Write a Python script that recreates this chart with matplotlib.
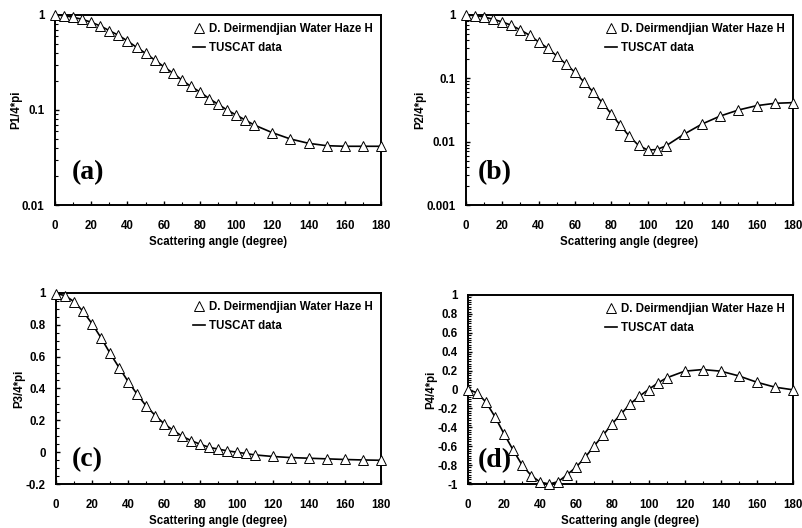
"""Four-panel phase matrix comparison: Deirmendjian Water Haze H vs TUSCAT."""

import matplotlib

matplotlib.use("Agg")
import matplotlib.pyplot as plt
from matplotlib.ticker import MultipleLocator, LogLocator, NullFormatter, FuncFormatter

plt.rcParams["font.family"] = ["Liberation Sans", "DejaVu Sans"]
plt.rcParams["font.weight"] = "bold"
plt.rcParams["font.size"] = 8.3

angles = [0, 5, 10, 15, 20, 25, 30, 35, 40, 45, 50, 55, 60, 65, 70, 75, 80,
          85, 90, 95, 100, 105, 110, 120, 130, 140, 150, 160, 170, 180]

p1 = [1.0, 0.984, 0.945, 0.90, 0.837, 0.766, 0.684, 0.611, 0.533, 0.457,
      0.395, 0.336, 0.286, 0.245, 0.207, 0.177, 0.155, 0.132, 0.115, 0.100,
      0.0886, 0.0785, 0.0695, 0.0577, 0.0495, 0.0446, 0.0421, 0.0415,
      0.0415, 0.0415]

p2 = [1.0, 0.976, 0.93, 0.854, 0.775, 0.687, 0.58, 0.478, 0.375, 0.298,
      0.225, 0.168, 0.124, 0.0875, 0.0608, 0.0413, 0.0274, 0.0181, 0.0121,
      0.00875, 0.00738, 0.0075, 0.00855, 0.0131, 0.019, 0.0254, 0.0316,
      0.037, 0.0403, 0.0413]

p3 = [0.996, 0.983, 0.945, 0.884, 0.806, 0.717, 0.62, 0.53, 0.443, 0.363,
      0.289, 0.23, 0.177, 0.137, 0.099, 0.072, 0.049, 0.03, 0.019, 0.008,
      0.0, -0.008, -0.017, -0.027, -0.034, -0.038, -0.042, -0.046, -0.049,
      -0.051]

p4 = [0.0, -0.035, -0.134, -0.29, -0.47, -0.64, -0.80, -0.91, -0.98, -1.0,
      -0.975, -0.90, -0.82, -0.715, -0.595, -0.48, -0.36, -0.255, -0.15,
      -0.07, 0.0, 0.067, 0.123, 0.194, 0.211, 0.194, 0.144, 0.077, 0.025,
      -0.003]

# ylabel, data, panel tag, axes rect, tag position (axes fraction)
panels = [
    ("P1/4*pi", p1, "(a)", [0.0686, 0.6117, 0.4065, 0.360], (0.05, 0.17)),
    ("P2/4*pi", p2, "(b)", [0.5810, 0.6117, 0.4077, 0.360], (0.037, 0.17)),
    ("P3/4*pi", p3, "(c)", [0.0698, 0.0833, 0.4052, 0.362], (0.05, 0.13)),
    ("P4/4*pi", p4, "(d)", [0.5835, 0.0833, 0.4052, 0.358], (0.03, 0.125)),
]

fig = plt.figure(figsize=(8.02, 5.28), dpi=100)

for i, (ylabel, values, tag, rect, tag_xy) in enumerate(panels):
    ax = fig.add_axes(rect)
    ax.plot(angles, values, color="black", linewidth=1.2, label="TUSCAT data",
            zorder=2, clip_on=False)
    ax.plot(angles, values, linestyle="none", marker="^", markersize=6.5,
            markerfacecolor="white", markeredgecolor="black", markeredgewidth=0.7,
            label="D. Deirmendjian Water Haze H", zorder=3, clip_on=False)

    ax.set_xlim(0, 180)
    ax.xaxis.set_major_locator(MultipleLocator(20))
    ax.xaxis.set_minor_locator(MultipleLocator(10))

    if i == 0:
        ax.set_yscale("log")
        ax.set_ylim(0.01, 1)
        ax.set_yticks([0.01, 0.1, 1])
        ax.set_yticklabels(["0.01", "0.1", "1"])
    elif i == 1:
        ax.set_yscale("log")
        ax.set_ylim(0.001, 1)
        ax.set_yticks([0.001, 0.01, 0.1, 1])
        ax.set_yticklabels(["0.001", "0.01", "0.1", "1"])
    elif i == 2:
        ax.set_ylim(-0.2, 1)
        ax.yaxis.set_major_locator(MultipleLocator(0.2))
        ax.yaxis.set_minor_locator(MultipleLocator(0.05))
    else:
        ax.set_ylim(-1, 1)
        ax.yaxis.set_major_locator(MultipleLocator(0.2))
        ax.yaxis.set_minor_locator(MultipleLocator(0.025))

    if i < 2:
        ax.yaxis.set_minor_locator(LogLocator(base=10, subs=range(2, 10)))
        ax.yaxis.set_minor_formatter(NullFormatter())
    else:
        ax.yaxis.set_major_formatter(
            FuncFormatter(lambda v, _: f"{v:g}" if abs(v) > 1e-9 else "0"))

    for spine in ax.spines.values():
        spine.set_linewidth(1.4)
    ax.tick_params(which="major", direction="in", length=3, width=1.0,
                   labelsize=8.3, top=False, right=False)
    ax.tick_params(axis="x", which="major", pad=11)
    ax.tick_params(axis="y", which="major", pad=7.5)
    ax.tick_params(which="minor", direction="in", length=2, width=0.8,
                   top=False, right=False)
    for lbl in ax.get_xticklabels() + ax.get_yticklabels():
        lbl.set_fontweight("bold")

    ax.set_xlabel("Scattering angle (degree)", fontsize=8.3, fontweight="bold", labelpad=3)
    ax.set_ylabel(ylabel, fontsize=8.3, fontweight="bold", labelpad=0)

    handles, labels = ax.get_legend_handles_labels()
    ax.legend(handles[::-1], labels[::-1], loc="upper right", frameon=False,
              handlelength=1.0, handletextpad=0.4, labelspacing=0.6,
              borderaxespad=0.3, prop={"weight": "bold", "size": 8.3})

    ax.text(tag_xy[0], tag_xy[1], tag, transform=ax.transAxes, fontsize=20,
            family=["Liberation Serif", "DejaVu Serif"], fontweight="bold",
            va="center", ha="left")

fig.savefig("out.png", dpi=100)
